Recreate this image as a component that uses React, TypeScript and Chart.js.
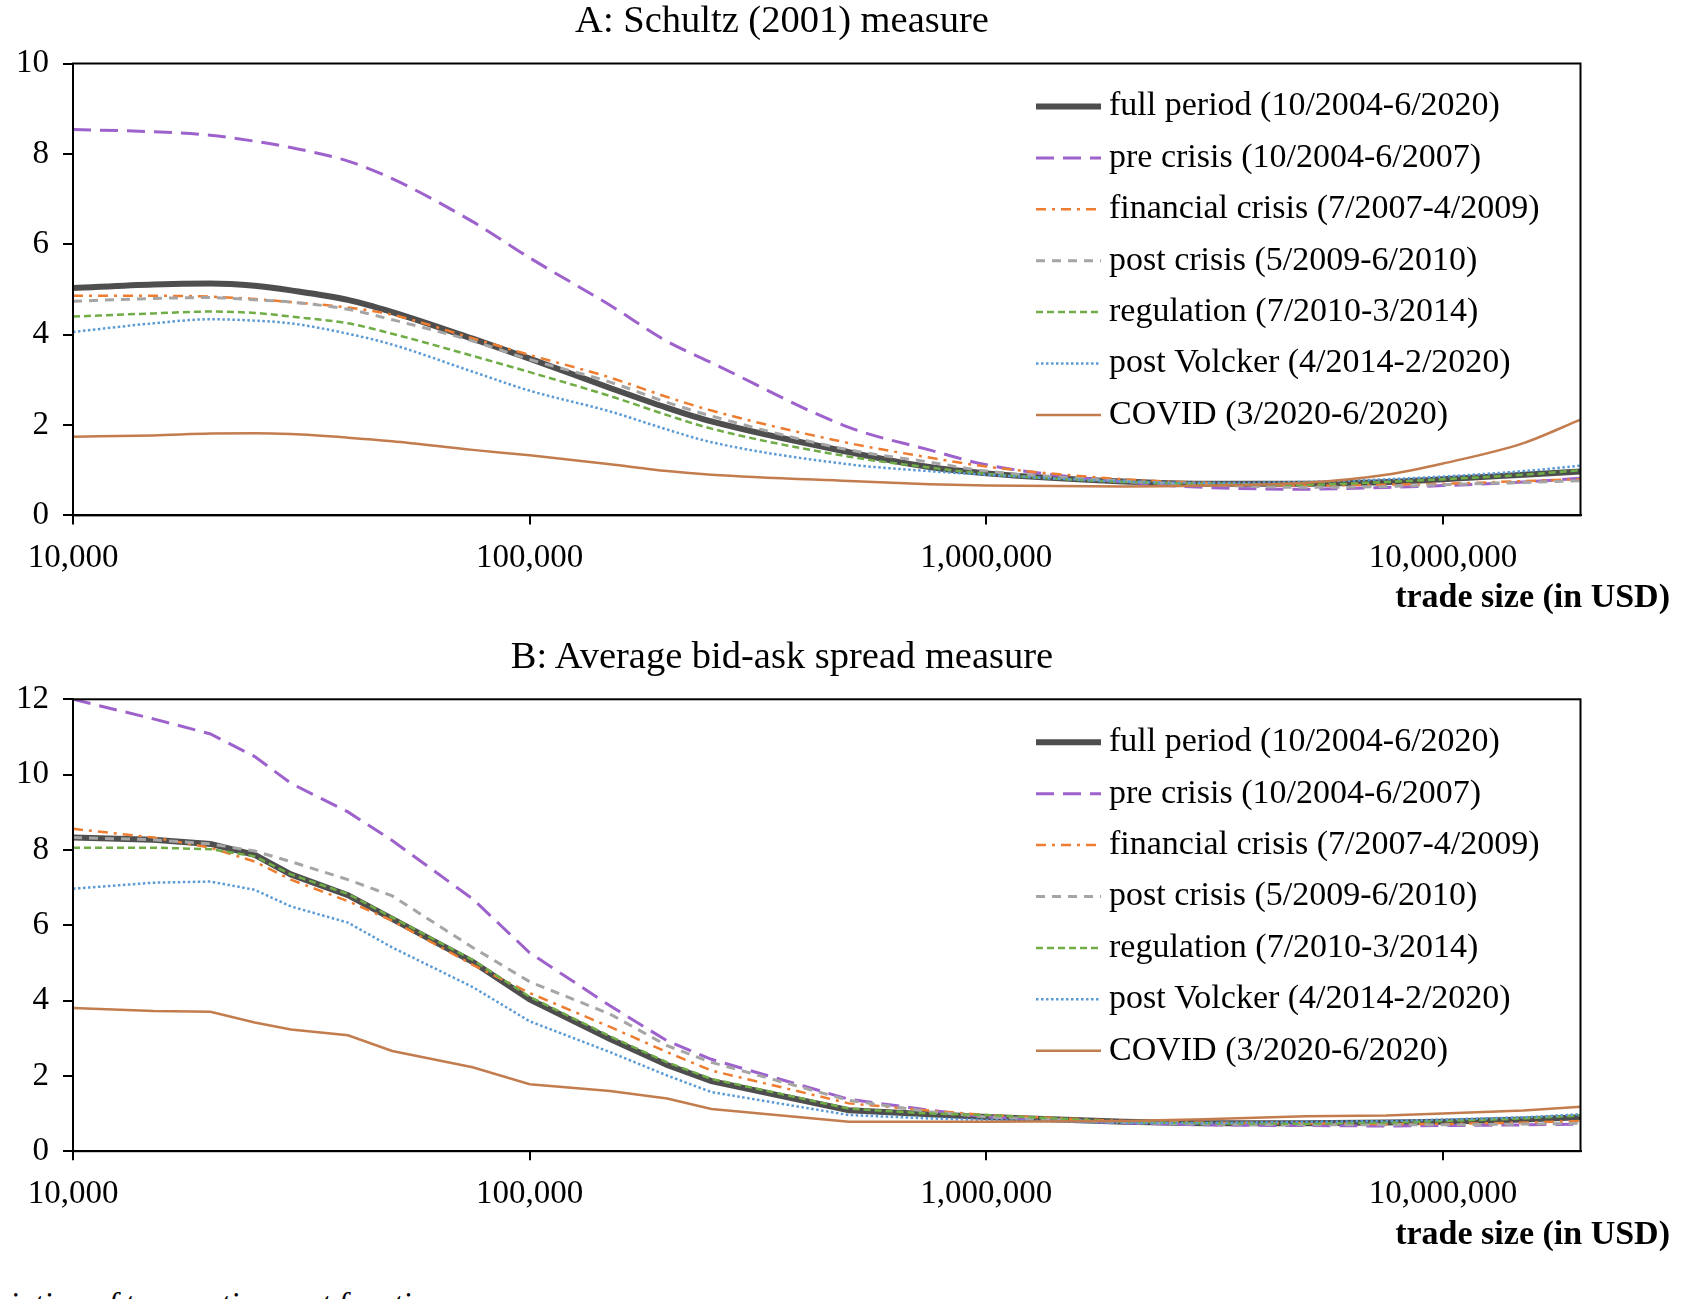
import React, { useEffect, useRef } from "react";
import { Chart, registerables } from "chart.js";

Chart.register(...registerables);

// Trade-size buckets (USD) on the horizontal log axis
const tradeSizes = [
  10000, 15000, 20000, 25000, 30000, 40000, 50000, 75000, 100000, 150000, 200000,
  250000, 500000, 750000, 1000000, 2000000, 3000000, 5000000, 7500000, 10000000,
  15000000, 20000000,
];

const periodLabels = [
  "full period (10/2004-6/2020)",
  "pre crisis (10/2004-6/2007)",
  "financial crisis (7/2007-4/2009)",
  "post crisis (5/2009-6/2010)",
  "regulation (7/2010-3/2014)",
  "post Volcker (4/2014-2/2020)",
  "COVID (3/2020-6/2020)",
];

const xTickValues = [10000, 100000, 1000000, 10000000];
const xMax = 20000000;
const yMaxSchultz = 10;
const yMaxSpread = 12;
const yStep = 2;

// Panel A: Schultz (2001) measure
const schultzFull = [5.03, 5.11, 5.13, 5.08, 4.98, 4.77, 4.5, 3.91, 3.47, 2.82, 2.38, 2.08, 1.4, 1.07, 0.93, 0.75, 0.7, 0.7, 0.74, 0.8, 0.9, 0.97];
const schultzPre = [8.54, 8.49, 8.41, 8.28, 8.14, 7.84, 7.45, 6.5, 5.7, 4.65, 3.85, 3.38, 1.95, 1.45, 1.12, 0.74, 0.62, 0.58, 0.62, 0.66, 0.74, 0.82];
const schultzCrisis = [4.86, 4.86, 4.84, 4.79, 4.72, 4.6, 4.44, 3.92, 3.55, 3.05, 2.62, 2.32, 1.6, 1.28, 1.08, 0.8, 0.72, 0.66, 0.68, 0.7, 0.76, 0.8];
const schultzPost = [4.74, 4.8, 4.82, 4.77, 4.72, 4.56, 4.33, 3.86, 3.45, 2.95, 2.5, 2.2, 1.45, 1.18, 0.98, 0.76, 0.68, 0.62, 0.64, 0.68, 0.73, 0.77];
const schultzRegulation = [4.4, 4.47, 4.51, 4.48, 4.4, 4.25, 4.02, 3.53, 3.17, 2.64, 2.22, 1.92, 1.3, 1.06, 0.92, 0.74, 0.7, 0.68, 0.74, 0.8, 0.9, 1.0];
const schultzVolcker = [4.06, 4.25, 4.34, 4.31, 4.25, 4.02, 3.78, 3.18, 2.76, 2.3, 1.9, 1.62, 1.13, 0.98, 0.9, 0.75, 0.72, 0.74, 0.8, 0.86, 0.98, 1.1];
const schultzCovid = [1.74, 1.77, 1.81, 1.82, 1.8, 1.72, 1.64, 1.45, 1.33, 1.13, 0.98, 0.9, 0.76, 0.69, 0.66, 0.64, 0.66, 0.72, 0.9, 1.15, 1.6, 2.12];

// Panel B: average bid-ask spread measure
const spreadFull = [8.33, 8.27, 8.16, 7.87, 7.35, 6.8, 6.17, 5.03, 4.03, 2.98, 2.29, 1.86, 1.09, 0.98, 0.91, 0.78, 0.74, 0.74, 0.76, 0.78, 0.84, 0.9];
const spreadPre = [12.0, 11.48, 11.08, 10.48, 9.77, 9.01, 8.25, 6.7, 5.27, 3.86, 2.93, 2.44, 1.38, 1.09, 0.91, 0.75, 0.7, 0.68, 0.67, 0.68, 0.7, 0.72];
const spreadCrisis = [8.56, 8.33, 8.06, 7.69, 7.21, 6.64, 6.12, 4.95, 4.2, 3.3, 2.63, 2.14, 1.27, 1.08, 0.96, 0.8, 0.76, 0.74, 0.72, 0.72, 0.76, 0.8];
const spreadPost = [8.33, 8.27, 8.16, 7.97, 7.69, 7.21, 6.78, 5.41, 4.5, 3.64, 2.8, 2.36, 1.35, 1.05, 0.91, 0.76, 0.72, 0.7, 0.7, 0.7, 0.72, 0.74];
const spreadRegulation = [8.06, 8.06, 8.02, 7.83, 7.35, 6.83, 6.21, 5.08, 4.1, 3.05, 2.36, 1.92, 1.13, 1.0, 0.96, 0.78, 0.74, 0.73, 0.76, 0.8, 0.87, 0.95];
const spreadVolcker = [6.97, 7.13, 7.16, 6.94, 6.5, 6.07, 5.41, 4.36, 3.45, 2.63, 2.01, 1.57, 0.96, 0.87, 0.83, 0.75, 0.75, 0.78, 0.8, 0.84, 0.9, 0.98];
const spreadCovid = [3.8, 3.72, 3.7, 3.42, 3.23, 3.08, 2.66, 2.23, 1.78, 1.6, 1.4, 1.12, 0.78, 0.78, 0.78, 0.8, 0.85, 0.93, 0.95, 1.0, 1.08, 1.18];

const lineStyles = [
  { color: "rgba(68,68,68,0.95)", width: 6, dash: [] as number[] },
  { color: "#9E62CC", width: 3, dash: [18, 9] },
  { color: "#ED7D31", width: 2.5, dash: [10, 6, 3, 6] },
  { color: "#A5A5A5", width: 3, dash: [9, 7] },
  { color: "#70AD47", width: 2.5, dash: [7, 4] },
  { color: "#5B9BD5", width: 2.5, dash: [2.5, 2.5] },
  { color: "#C27C4E", width: 2.5, dash: [] as number[] },
];

const SERIF = "'Liberation Serif', 'Times New Roman', serif";

// Draws the boxed plot frame and the in-plot key with line samples
const frameAndKey = {
  id: "frameAndKey",
  afterDatasetsDraw(chart: any) {
    const { ctx, chartArea: a } = chart;
    ctx.save();
    ctx.setLineDash([]);
    ctx.strokeStyle = "#000";
    ctx.lineWidth = 2;
    ctx.strokeRect(a.left, a.top, a.right - a.left, a.bottom - a.top);
    ctx.font = `34px ${SERIF}`;
    ctx.textBaseline = "middle";
    ctx.textAlign = "left";
    chart.data.datasets.forEach((ds: any, i: number) => {
      const y = a.top + 43 + i * 51.4;
      const x0 = a.left + 963;
      ctx.beginPath();
      ctx.setLineDash(ds.borderDash || []);
      ctx.lineWidth = ds.borderWidth;
      ctx.strokeStyle = ds.borderColor;
      ctx.moveTo(x0, y);
      ctx.lineTo(x0 + 65, y);
      ctx.stroke();
      ctx.setLineDash([]);
      ctx.fillStyle = "#000";
      ctx.fillText(ds.label, x0 + 73, y);
    });
    ctx.restore();
  },
};

function buildConfig(series: number[][], yMax: number, smooth: boolean, top: number, xHeight: number): any {
  return {
    type: "line",
    data: {
      datasets: series.map((vals, i) => ({
        label: periodLabels[i],
        data: vals.map((v, j) => ({ x: tradeSizes[j], y: v })),
        borderColor: lineStyles[i].color,
        borderWidth: lineStyles[i].width,
        borderDash: lineStyles[i].dash,
        pointRadius: 0,
        fill: false,
        tension: smooth ? 0.4 : 0,
        cubicInterpolationMode: smooth ? "monotone" : "default",
        order: series.length - i,
      })),
    },
    options: {
      animation: false,
      responsive: false,
      events: [],
      layout: { padding: { top, left: 0, right: 106.5, bottom: 0 } },
      plugins: { legend: { display: false }, tooltip: { enabled: false }, title: { display: false } },
      scales: {
        x: {
          type: "logarithmic",
          min: 10000,
          max: xMax,
          afterBuildTicks: (axis: any) => {
            axis.ticks = xTickValues.map((v) => ({ value: v, major: true }));
          },
          afterFit: (axis: any) => {
            axis.height = xHeight;
          },
          border: { display: true, color: "#000", width: 2 },
          grid: { display: true, drawOnChartArea: false, drawTicks: true, tickLength: 9, color: "#000", lineWidth: 2 },
          ticks: {
            autoSkip: false,
            maxRotation: 0,
            padding: 14,
            color: "#000",
            font: { family: SERIF, size: 33 },
            callback: (v: any) => Number(v).toLocaleString("en-US"),
          },
        },
        y: {
          type: "linear",
          min: 0,
          max: yMax,
          afterFit: (axis: any) => {
            axis.width = 73;
          },
          border: { display: true, color: "#000", width: 2 },
          grid: { display: true, drawOnChartArea: false, drawTicks: true, tickLength: 10, color: "#000", lineWidth: 2 },
          ticks: {
            stepSize: yStep,
            padding: 14,
            color: "#000",
            font: { family: SERIF, size: 33 },
          },
        },
      },
    },
    plugins: [frameAndKey],
  };
}

function Panel(props: { series: number[][]; yMax: number; smooth: boolean; top: number; height: number; areaTop: number; areaBottom: number }) {
  const ref = useRef<HTMLCanvasElement | null>(null);
  useEffect(() => {
    if (!ref.current) return;
    const chart = new Chart(
      ref.current,
      buildConfig(props.series, props.yMax, props.smooth, props.areaTop - props.top, props.top + props.height - props.areaBottom)
    );
    return () => chart.destroy();
  }, []);
  return (
    <div style={{ position: "absolute", left: 0, top: props.top, width: 1687, height: props.height }}>
      <canvas ref={ref} width={1687} height={props.height} style={{ width: 1687, height: props.height, display: "block" }} />
    </div>
  );
}

const textBase: React.CSSProperties = { position: "absolute", left: 0, margin: 0, whiteSpace: "nowrap", color: "#000", fontFamily: SERIF };

export default function App() {
  return (
    <div style={{ position: "fixed", left: 0, top: 0, width: 1687, height: 1299, overflow: "hidden", background: "#fff" }}>
      <Panel
        series={[schultzFull, schultzPre, schultzCrisis, schultzPost, schultzRegulation, schultzVolcker, schultzCovid]}
        yMax={yMaxSchultz}
        smooth={true}
        top={0}
        height={610}
        areaTop={63.5}
        areaBottom={515.4}
      />
      <Panel
        series={[spreadFull, spreadPre, spreadCrisis, spreadPost, spreadRegulation, spreadVolcker, spreadCovid]}
        yMax={yMaxSpread}
        smooth={false}
        top={630}
        height={620}
        areaTop={699.3}
        areaBottom={1151.2}
      />
      <div style={{ ...textBase, top: -1, width: 1564, textAlign: "center", fontSize: 38.5, lineHeight: "40px" }}>
        A: Schultz (2001) measure
      </div>
      <div style={{ ...textBase, top: 635, width: 1564, textAlign: "center", fontSize: 38.5, lineHeight: "40px" }}>
        B: Average bid-ask spread measure
      </div>
      <div style={{ ...textBase, top: 578, width: 1670, textAlign: "right", fontSize: 34, fontWeight: "bold", lineHeight: "36px" }}>
        trade size (in USD)
      </div>
      <div style={{ ...textBase, top: 1215, width: 1670, textAlign: "right", fontSize: 34, fontWeight: "bold", lineHeight: "36px" }}>
        trade size (in USD)
      </div>
      <div style={{ ...textBase, left: -35, top: 1287, fontSize: 32, fontStyle: "italic", lineHeight: "32px" }}>
        Variation of transaction cost functions
      </div>
    </div>
  );
}
